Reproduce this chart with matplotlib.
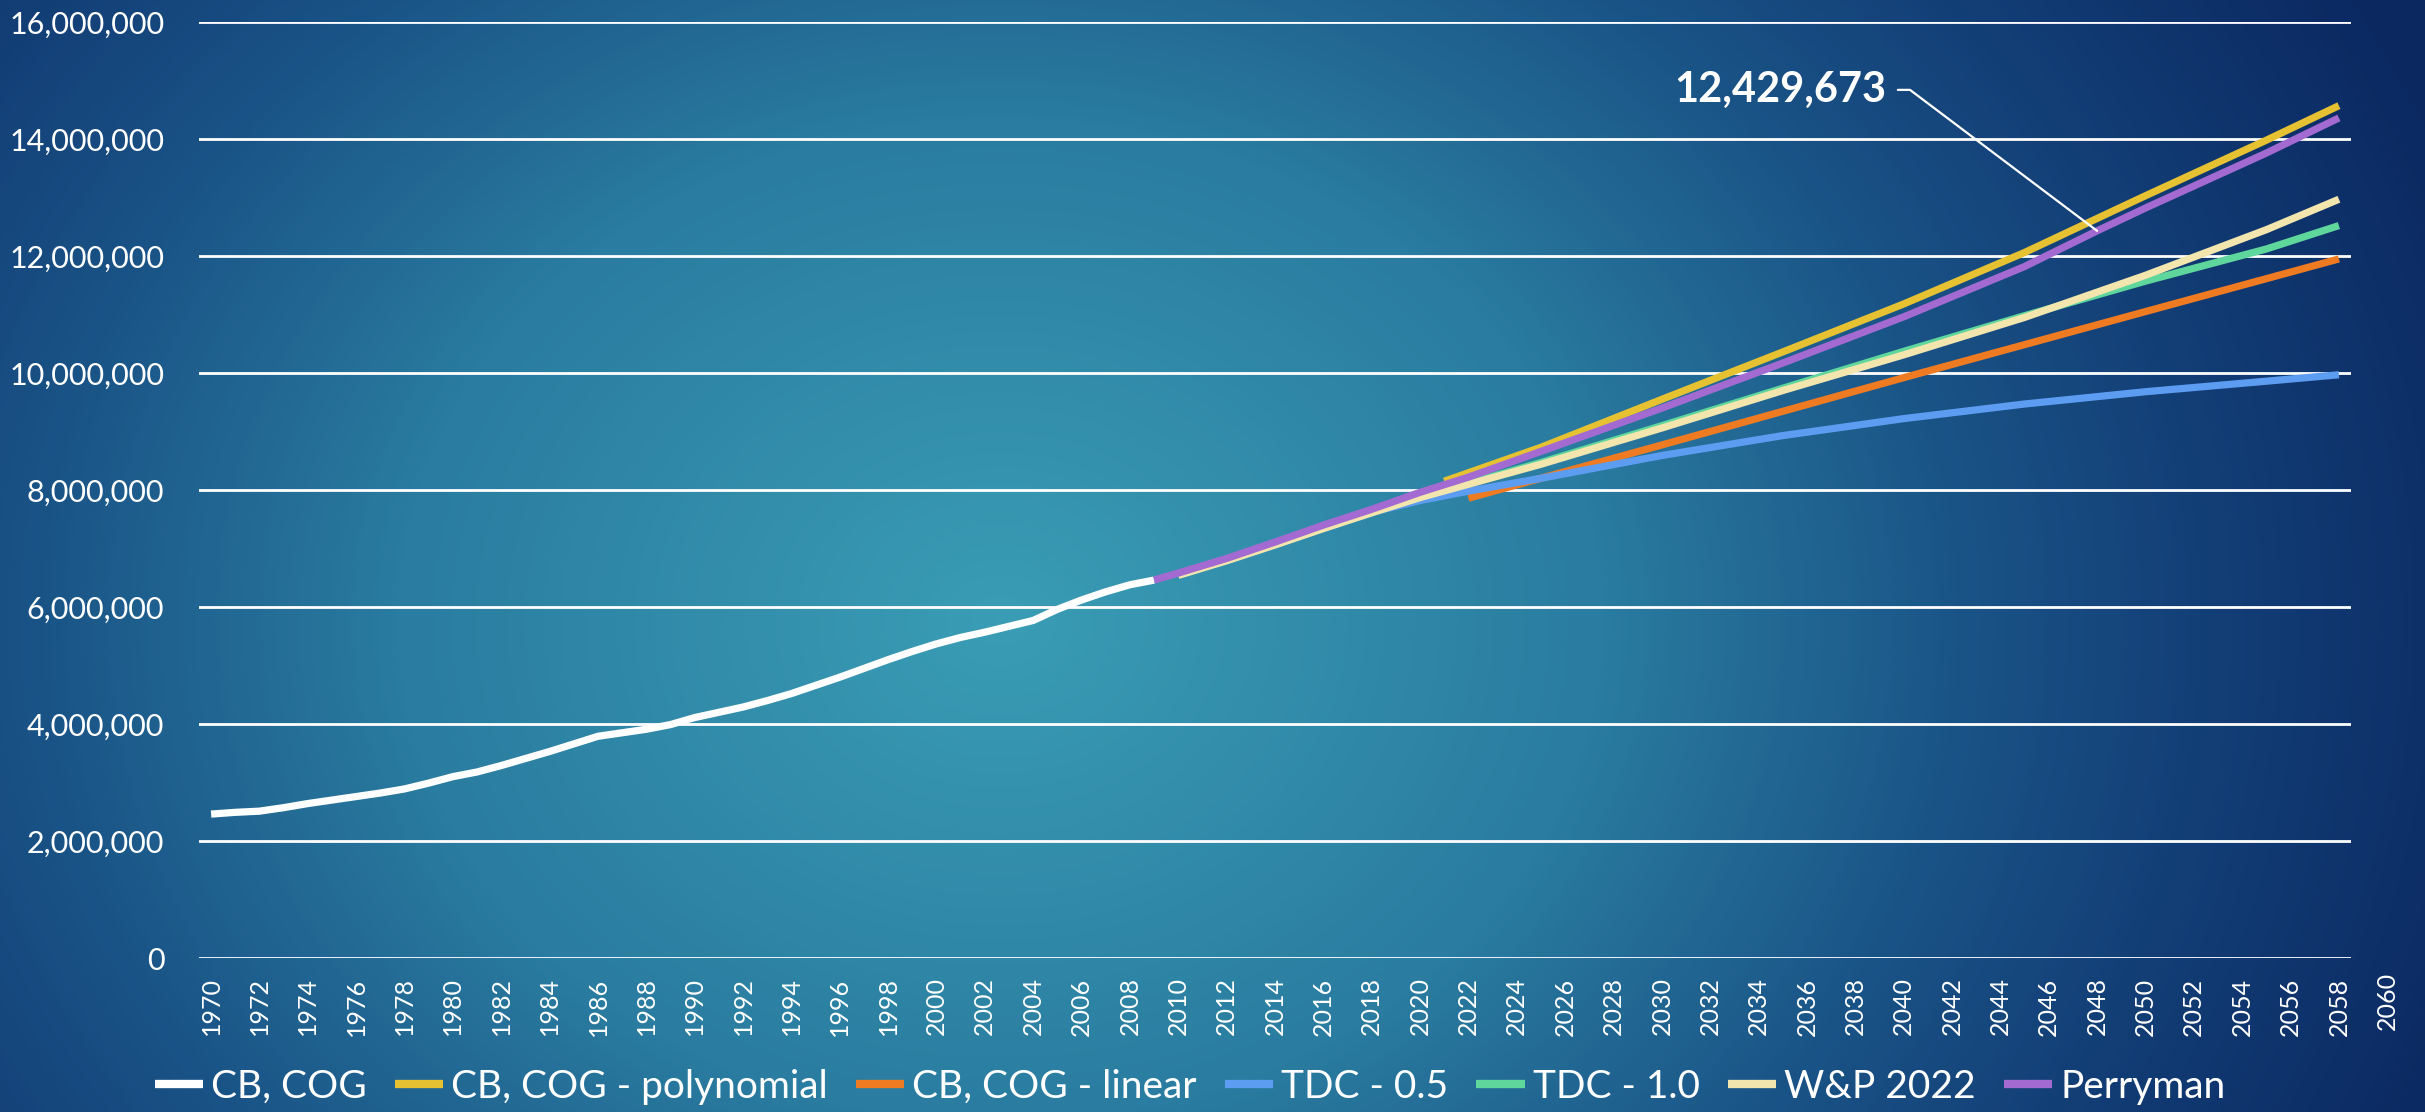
import numpy as np
import matplotlib
matplotlib.use('Agg')
import matplotlib.pyplot as plt
from matplotlib.colors import LinearSegmentedColormap
from matplotlib.ticker import FuncFormatter, FixedLocator
import matplotlib.transforms as mtransforms

plt.rcParams['font.family'] = ['Lato', 'DejaVu Sans']

SCALE = 1e6  # values below are in millions of people

# ---- data ----
hist_years = list(range(1970, 2010))
hist_vals = [2.46, 2.49, 2.51, 2.57, 2.64, 2.70, 2.76, 2.82, 2.89, 2.99,
             3.10, 3.18, 3.29, 3.41, 3.53, 3.66, 3.79, 3.85, 3.91, 3.99,
             4.11, 4.20, 4.29, 4.40, 4.52, 4.66, 4.80, 4.95, 5.10, 5.24,
             5.37, 5.48, 5.57, 5.67, 5.77, 5.96, 6.12, 6.26, 6.38, 6.46]

poly_years = [2021, 2025, 2030, 2035, 2040, 2045, 2050, 2055, 2058]
poly_vals = [8.15, 8.73, 9.55, 10.36, 11.18, 12.06, 13.03, 13.98, 14.57]

lin_years = [2022, 2030, 2040, 2050, 2058]
lin_vals = [7.86, 8.77, 9.92, 11.05, 11.95]

tdc05_years = [2010, 2012, 2014, 2016, 2018, 2020, 2022, 2025, 2030, 2035, 2040, 2045, 2050, 2055, 2058]
tdc05_vals = [6.55, 6.80, 7.07, 7.35, 7.62, 7.82, 7.98, 8.20, 8.59, 8.93, 9.22, 9.47, 9.68, 9.86, 9.97]

tdc10_years = [2010, 2012, 2014, 2016, 2018, 2020, 2025, 2030, 2035, 2040, 2045, 2050, 2055, 2058]
tdc10_vals = [6.55, 6.80, 7.07, 7.35, 7.62, 7.88, 8.47, 9.10, 9.74, 10.37, 10.98, 11.57, 12.12, 12.52]

wp_years = [2010, 2012, 2014, 2016, 2018, 2020, 2025, 2030, 2035, 2040, 2045, 2050, 2055, 2058]
wp_vals = [6.54, 6.79, 7.06, 7.34, 7.61, 7.87, 8.44, 9.06, 9.70, 10.31, 10.95, 11.67, 12.45, 12.97]

perry_years = [2009, 2010, 2012, 2014, 2016, 2018, 2020, 2022, 2025, 2030, 2035, 2040, 2045, 2048, 2050, 2055, 2058]
perry_vals = [6.46, 6.58, 6.83, 7.11, 7.40, 7.67, 7.96, 8.22, 8.66, 9.40, 10.17, 10.96, 11.82, 12.429673, 12.82, 13.76, 14.36]

series_names = ['CB, COG', 'CB, COG - polynomial', 'CB, COG - linear', 'TDC - 0.5',
                'TDC - 1.0', 'W&P 2022', 'Perryman']
series_colors = ['#FFFFFF', '#E6C232', '#EE7B22', '#5C9DF2', '#5ED69C', '#F3E5AE', '#A36BD2']

tick_years = list(range(1970, 2061, 2))
y_ticks = list(range(0, 16000001, 2000000))

annot_year = 2048
annot_value = 12429673

# ---- figure ----
W, H = 2425, 1112
fig = plt.figure(figsize=(W / 100, H / 100), dpi=100)

# background radial gradient
bg = fig.add_axes([0, 0, 1, 1], zorder=-10)
yy, xx = np.mgrid[0:H, 0:W]
cx, cy = 1000, 620
r = np.sqrt(((xx - cx) / 1200.0) ** 2 + ((yy - cy) / 1000.0) ** 2)
cmap = LinearSegmentedColormap.from_list('bg', [
    (0.0, '#3A9DB5'), (0.5 / 1.3, '#2A7CA0'), (0.8 / 1.3, '#1A5487'),
    (1.0 / 1.3, '#133F77'), (1.0, '#0B2861')])
bg.imshow(np.clip(r / 1.3, 0, 1), cmap=cmap, vmin=0, vmax=1, aspect='auto',
          extent=[0, W, H, 0], interpolation='bilinear')
bg.axis('off')

ax = fig.add_axes([199 / W, 1 - 958 / H, (2351 - 199) / W, (958 - 22) / H])
ax.set_facecolor('none')
for s in ax.spines.values():
    s.set_visible(False)

lw = 5.2
data = [(hist_years, hist_vals), (poly_years, poly_vals), (lin_years, lin_vals),
        (tdc05_years, tdc05_vals), (tdc10_years, tdc10_vals), (wp_years, wp_vals),
        (perry_years, perry_vals)]
handles = []
for (xs, vs), name, c in zip(data, series_names, series_colors):
    h, = ax.plot(xs, np.array(vs) * SCALE, color=c, lw=lw, label=name,
                 solid_capstyle='butt', solid_joinstyle='round', zorder=3)
    handles.append(h)

ax.set_xlim(1969.5, 2058.5)
ax.set_ylim(0, 16000000)
ax.yaxis.set_major_locator(FixedLocator(y_ticks))
ax.yaxis.set_major_formatter(FuncFormatter(lambda v, p: f'{v:,.0f}'))
ax.grid(axis='y', color='white', lw=2.0, zorder=1)
ax.grid(axis='x', visible=False)
ax.xaxis.set_major_locator(FixedLocator(tick_years))
ax.tick_params(axis='y', length=0, pad=25, labelsize=22, labelcolor='white')
ax.tick_params(axis='x', length=0, pad=14, labelsize=18, labelcolor='white',
               labelrotation=90)
# category labels beyond the last data category
trans = mtransforms.blended_transform_factory(ax.transData, ax.transAxes)
shown = [t for t in tick_years if t > 2058.5]
for t in shown:
    ax.text(t, -14 / (958 - 22), str(t), transform=trans, rotation=90,
            ha='center', va='top', fontsize=18, color='white', clip_on=False)

# annotation
ax.annotate(f'{annot_value:,}', xy=(annot_year, annot_value),
            xytext=(2039.3, 14840000), ha='right', va='center',
            fontsize=30, fontweight='bold', color='white',
            arrowprops=dict(arrowstyle='-', color='white', lw=1.6,
                            shrinkA=6, shrinkB=0,
                            connectionstyle='angle,angleA=0,angleB=-37,rad=0'),
            zorder=6)

leg = fig.legend(handles=handles, loc='center', bbox_to_anchor=(0.4907, 0.0225),
                 ncol=7, frameon=False, handlelength=1.25, fontsize=28,
                 handletextpad=0.2, columnspacing=0.72, labelcolor='white')
for lh in leg.get_lines():
    lh.set_linewidth(6)

fig.savefig('out.png', dpi=100)
